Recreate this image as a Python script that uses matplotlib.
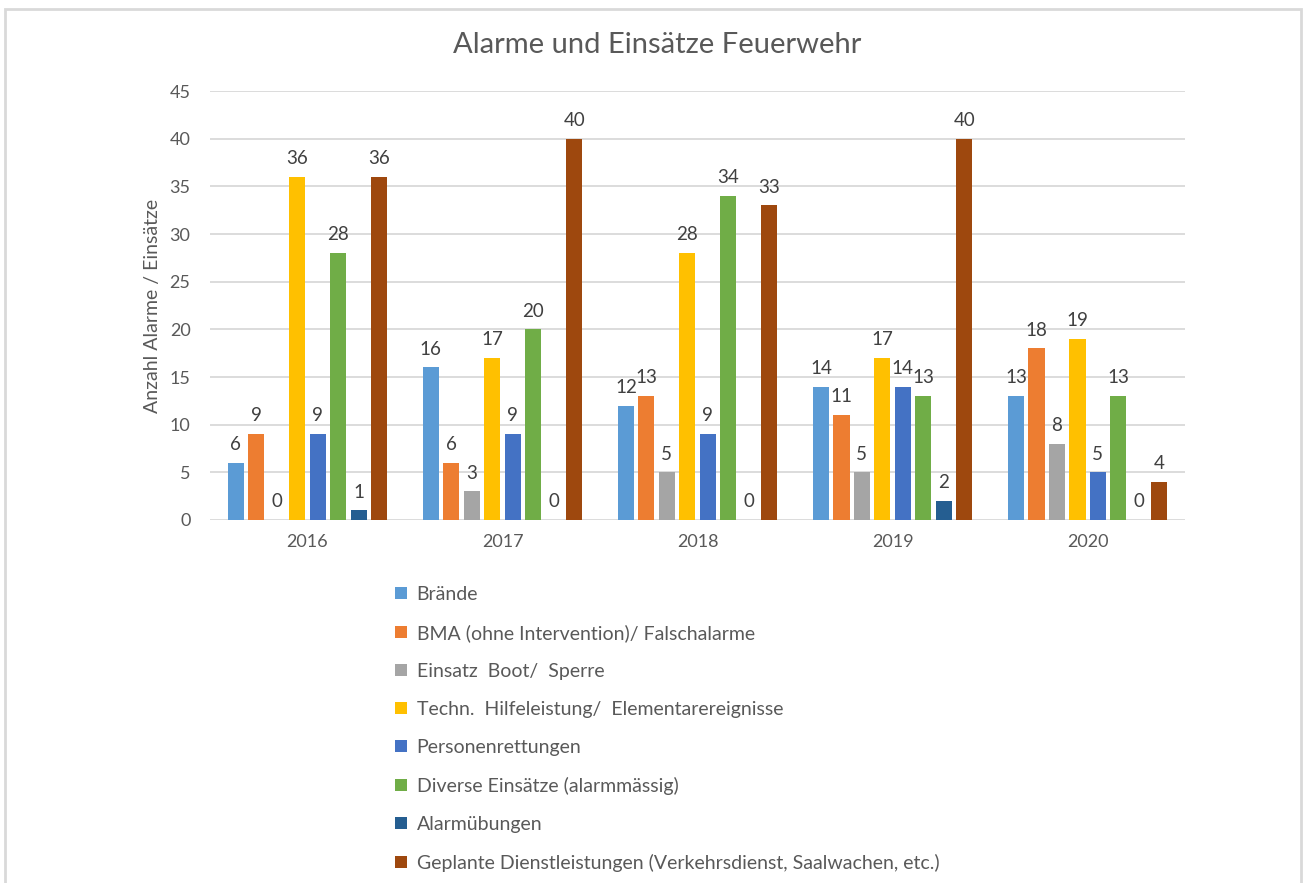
import numpy as np
import matplotlib.pyplot as plt
from matplotlib.patches import Rectangle

plt.rcParams['font.family'] = ['Lato', 'DejaVu Sans']

years = ['2016', '2017', '2018', '2019', '2020']
series = ['Brände',
          'BMA (ohne Intervention)/ Falschalarme',
          'Einsatz  Boot/  Sperre',
          'Techn.  Hilfeleistung/  Elementarereignisse',
          'Personenrettungen',
          'Diverse Einsätze (alarmmässig)',
          'Alarmübungen',
          'Geplante Dienstleistungen (Verkehrsdienst, Saalwachen, etc.)']
braende = [6, 16, 12, 14, 13]
bma = [9, 6, 13, 11, 18]
boot = [0, 3, 5, 5, 8]
techn = [36, 17, 28, 17, 19]
personen = [9, 9, 9, 14, 5]
diverse = [28, 20, 34, 13, 13]
uebungen = [1, 0, 0, 2, 0]
geplant = [36, 40, 33, 40, 4]
values = [braende, bma, boot, techn, personen, diverse, uebungen, geplant]
colors = ['#5B9BD5', '#ED7D31', '#A5A5A5', '#FFC000', '#4472C4', '#70AD47', '#255E91', '#9E480E']

txt = '#595959'
fig = plt.figure(figsize=(13.09, 8.83), dpi=100)
ax = fig.add_axes([0.1604, 0.4111, 0.745, 0.4858])

x = np.arange(len(years))
slot = 0.105
w = 0.083
for i, (vals, c, name) in enumerate(zip(values, colors, series)):
    pos = x + (i - 3.5) * slot
    bars = ax.bar(pos, vals, width=w, color=c, label=name, zorder=3)
    for b, v in zip(bars, vals):
        ax.annotate(str(v), (b.get_x() + b.get_width() / 2, v), xytext=(0, 7),
                    textcoords='offset points', ha='center', va='bottom',
                    fontsize=13.5, color='#404040')

ax.set_xlim(-0.5, 4.5)
ax.set_ylim(0, 45)
ax.set_yticks(range(0, 46, 5))
ax.set_xticks(x)
ax.set_xticklabels(years)
ax.grid(axis='y', color='#D9D9D9', linewidth=1.3, zorder=0)
for s in ax.spines.values():
    s.set_visible(False)
ax.tick_params(length=0, labelsize=13, colors=txt, pad=10)
ax.tick_params(axis='y', pad=14)
ax.set_ylabel('Anzahl Alarme / Einsätze', fontsize=14, color=txt)
ax.yaxis.set_label_coords(-0.05, 0.5)
fig.text(0.502, 0.949, 'Alarme und Einsätze Feuerwehr', fontsize=21, color=txt,
         ha='center', va='center')

fig.legend(loc='upper left', bbox_to_anchor=(0.296, 0.345), frameon=False,
           fontsize=14, labelcolor=txt, handlelength=0.6, handleheight=0.6,
           handletextpad=0.5, labelspacing=1.08, borderaxespad=0)

fig.patches.append(Rectangle((0.004, -0.01), 0.99, 1.0, transform=fig.transFigure,
                             fill=False, edgecolor='#D9D9D9', linewidth=2))

fig.savefig('out.png', dpi=100)
